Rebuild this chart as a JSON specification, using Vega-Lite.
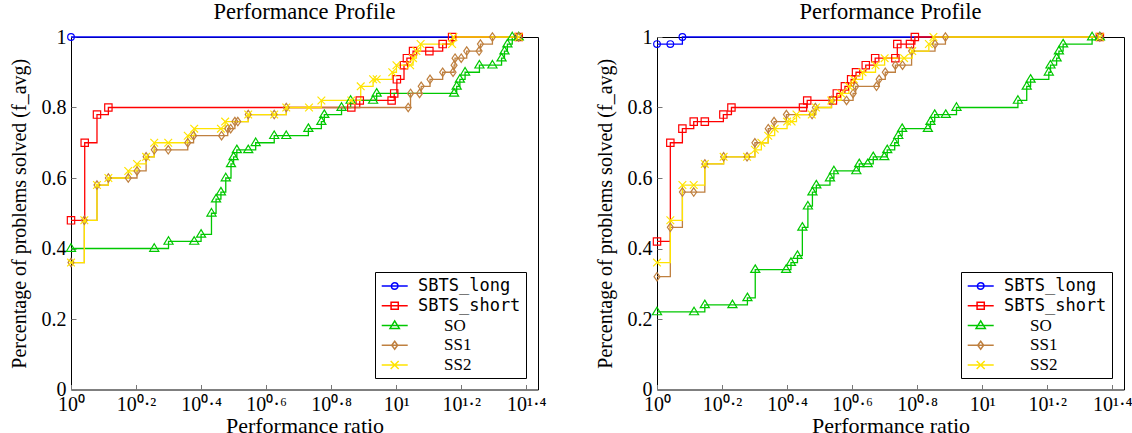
{
  "$schema": "https://vega.github.io/schema/vega-lite/v6.json",
  "background": "white",
  "padding": {"left": 8, "top": 0, "right": 2, "bottom": 0},
  "datasets": {
    "left": [
      {"series": "SBTS_long", "ratio": 1, "solved": 1},
      {"series": "SBTS_long", "ratio": 23.82, "solved": 1},
      {"series": "SBTS_short", "ratio": 1, "solved": 0.48},
      {"series": "SBTS_short", "ratio": 1.102, "solved": 0.70},
      {"series": "SBTS_short", "ratio": 1.202, "solved": 0.78},
      {"series": "SBTS_short", "ratio": 1.303, "solved": 0.80},
      {"series": "SBTS_short", "ratio": 7.278, "solved": 0.80},
      {"series": "SBTS_short", "ratio": 7.727, "solved": 0.82},
      {"series": "SBTS_short", "ratio": 9.683, "solved": 0.82},
      {"series": "SBTS_short", "ratio": 9.863, "solved": 0.84},
      {"series": "SBTS_short", "ratio": 10.05, "solved": 0.88},
      {"series": "SBTS_short", "ratio": 10.57, "solved": 0.92},
      {"series": "SBTS_short", "ratio": 10.79, "solved": 0.94},
      {"series": "SBTS_short", "ratio": 11.27, "solved": 0.96},
      {"series": "SBTS_short", "ratio": 12.65, "solved": 0.96},
      {"series": "SBTS_short", "ratio": 13.90, "solved": 0.98},
      {"series": "SBTS_short", "ratio": 14.86, "solved": 1.0},
      {"series": "SBTS_short", "ratio": 23.82, "solved": 1.0},
      {"series": "SO", "ratio": 1, "solved": 0.40},
      {"series": "SO", "ratio": 1.803, "solved": 0.40},
      {"series": "SO", "ratio": 1.995, "solved": 0.42},
      {"series": "SO", "ratio": 2.393, "solved": 0.42},
      {"series": "SO", "ratio": 2.512, "solved": 0.44},
      {"series": "SO", "ratio": 2.704, "solved": 0.50},
      {"series": "SO", "ratio": 2.793, "solved": 0.54},
      {"series": "SO", "ratio": 2.891, "solved": 0.56},
      {"series": "SO", "ratio": 2.992, "solved": 0.60},
      {"series": "SO", "ratio": 3.105, "solved": 0.64},
      {"series": "SO", "ratio": 3.162, "solved": 0.66},
      {"series": "SO", "ratio": 3.236, "solved": 0.68},
      {"series": "SO", "ratio": 3.508, "solved": 0.68},
      {"series": "SO", "ratio": 3.698, "solved": 0.70},
      {"series": "SO", "ratio": 4.217, "solved": 0.72},
      {"series": "SO", "ratio": 4.592, "solved": 0.72},
      {"series": "SO", "ratio": 5.370, "solved": 0.74},
      {"series": "SO", "ratio": 5.888, "solved": 0.76},
      {"series": "SO", "ratio": 6.012, "solved": 0.78},
      {"series": "SO", "ratio": 6.792, "solved": 0.80},
      {"series": "SO", "ratio": 7.244, "solved": 0.82},
      {"series": "SO", "ratio": 8.492, "solved": 0.82},
      {"series": "SO", "ratio": 8.710, "solved": 0.84},
      {"series": "SO", "ratio": 15.07, "solved": 0.84},
      {"series": "SO", "ratio": 15.35, "solved": 0.86},
      {"series": "SO", "ratio": 15.70, "solved": 0.88},
      {"series": "SO", "ratio": 16.29, "solved": 0.90},
      {"series": "SO", "ratio": 18.03, "solved": 0.92},
      {"series": "SO", "ratio": 19.77, "solved": 0.92},
      {"series": "SO", "ratio": 21.09, "solved": 0.94},
      {"series": "SO", "ratio": 21.53, "solved": 0.96},
      {"series": "SO", "ratio": 21.98, "solved": 0.98},
      {"series": "SO", "ratio": 22.75, "solved": 1.0},
      {"series": "SO", "ratio": 23.82, "solved": 1.0},
      {"series": "SS1", "ratio": 1, "solved": 0.36},
      {"series": "SS1", "ratio": 1.099, "solved": 0.48},
      {"series": "SS1", "ratio": 1.202, "solved": 0.58},
      {"series": "SS1", "ratio": 1.303, "solved": 0.60},
      {"series": "SS1", "ratio": 1.500, "solved": 0.60},
      {"series": "SS1", "ratio": 1.596, "solved": 0.62},
      {"series": "SS1", "ratio": 1.702, "solved": 0.66},
      {"series": "SS1", "ratio": 1.803, "solved": 0.68},
      {"series": "SS1", "ratio": 1.991, "solved": 0.68},
      {"series": "SS1", "ratio": 2.286, "solved": 0.70},
      {"series": "SS1", "ratio": 2.382, "solved": 0.72},
      {"series": "SS1", "ratio": 2.904, "solved": 0.72},
      {"series": "SS1", "ratio": 3.034, "solved": 0.74},
      {"series": "SS1", "ratio": 3.097, "solved": 0.74},
      {"series": "SS1", "ratio": 3.192, "solved": 0.76},
      {"series": "SS1", "ratio": 3.258, "solved": 0.76},
      {"series": "SS1", "ratio": 3.508, "solved": 0.78},
      {"series": "SS1", "ratio": 4.217, "solved": 0.78},
      {"series": "SS1", "ratio": 4.592, "solved": 0.80},
      {"series": "SS1", "ratio": 10.89, "solved": 0.80},
      {"series": "SS1", "ratio": 11.07, "solved": 0.84},
      {"series": "SS1", "ratio": 11.80, "solved": 0.84},
      {"series": "SS1", "ratio": 11.94, "solved": 0.86},
      {"series": "SS1", "ratio": 12.71, "solved": 0.88},
      {"series": "SS1", "ratio": 13.90, "solved": 0.90},
      {"series": "SS1", "ratio": 14.96, "solved": 0.90},
      {"series": "SS1", "ratio": 15.07, "solved": 0.92},
      {"series": "SS1", "ratio": 15.17, "solved": 0.94},
      {"series": "SS1", "ratio": 15.85, "solved": 0.94},
      {"series": "SS1", "ratio": 16.48, "solved": 0.96},
      {"series": "SS1", "ratio": 17.99, "solved": 0.96},
      {"series": "SS1", "ratio": 18.16, "solved": 0.98},
      {"series": "SS1", "ratio": 19.77, "solved": 1.0},
      {"series": "SS1", "ratio": 23.82, "solved": 1.0},
      {"series": "SS2", "ratio": 1, "solved": 0.36},
      {"series": "SS2", "ratio": 1.099, "solved": 0.48},
      {"series": "SS2", "ratio": 1.202, "solved": 0.58},
      {"series": "SS2", "ratio": 1.303, "solved": 0.60},
      {"series": "SS2", "ratio": 1.500, "solved": 0.62},
      {"series": "SS2", "ratio": 1.596, "solved": 0.64},
      {"series": "SS2", "ratio": 1.702, "solved": 0.66},
      {"series": "SS2", "ratio": 1.803, "solved": 0.70},
      {"series": "SS2", "ratio": 1.991, "solved": 0.70},
      {"series": "SS2", "ratio": 2.286, "solved": 0.72},
      {"series": "SS2", "ratio": 2.393, "solved": 0.74},
      {"series": "SS2", "ratio": 2.891, "solved": 0.74},
      {"series": "SS2", "ratio": 2.979, "solved": 0.76},
      {"series": "SS2", "ratio": 3.508, "solved": 0.78},
      {"series": "SS2", "ratio": 4.217, "solved": 0.78},
      {"series": "SS2", "ratio": 4.592, "solved": 0.80},
      {"series": "SS2", "ratio": 5.395, "solved": 0.80},
      {"series": "SS2", "ratio": 5.888, "solved": 0.82},
      {"series": "SS2", "ratio": 7.278, "solved": 0.82},
      {"series": "SS2", "ratio": 7.780, "solved": 0.86},
      {"series": "SS2", "ratio": 8.492, "solved": 0.88},
      {"series": "SS2", "ratio": 8.710, "solved": 0.88},
      {"series": "SS2", "ratio": 9.728, "solved": 0.90},
      {"series": "SS2", "ratio": 10.02, "solved": 0.92},
      {"series": "SS2", "ratio": 11.04, "solved": 0.92},
      {"series": "SS2", "ratio": 11.27, "solved": 0.94},
      {"series": "SS2", "ratio": 11.54, "solved": 0.96},
      {"series": "SS2", "ratio": 11.89, "solved": 0.98},
      {"series": "SS2", "ratio": 14.86, "solved": 0.98},
      {"series": "SS2", "ratio": 15.00, "solved": 1.0},
      {"series": "SS2", "ratio": 23.82, "solved": 1.0}
    ],
    "right": [
      {"series": "SBTS_long", "ratio": 1, "solved": 0.98},
      {"series": "SBTS_long", "ratio": 1.099, "solved": 0.98},
      {"series": "SBTS_long", "ratio": 1.197, "solved": 1.0},
      {"series": "SBTS_long", "ratio": 23.01, "solved": 1.0},
      {"series": "SBTS_short", "ratio": 1, "solved": 0.42},
      {"series": "SBTS_short", "ratio": 1.099, "solved": 0.70},
      {"series": "SBTS_short", "ratio": 1.197, "solved": 0.74},
      {"series": "SBTS_short", "ratio": 1.297, "solved": 0.76},
      {"series": "SBTS_short", "ratio": 1.403, "solved": 0.76},
      {"series": "SBTS_short", "ratio": 1.600, "solved": 0.78},
      {"series": "SBTS_short", "ratio": 1.694, "solved": 0.80},
      {"series": "SBTS_short", "ratio": 2.812, "solved": 0.80},
      {"series": "SBTS_short", "ratio": 2.897, "solved": 0.82},
      {"series": "SBTS_short", "ratio": 3.475, "solved": 0.82},
      {"series": "SBTS_short", "ratio": 3.573, "solved": 0.84},
      {"series": "SBTS_short", "ratio": 3.784, "solved": 0.86},
      {"series": "SBTS_short", "ratio": 3.954, "solved": 0.88},
      {"series": "SBTS_short", "ratio": 4.093, "solved": 0.90},
      {"series": "SBTS_short", "ratio": 4.385, "solved": 0.92},
      {"series": "SBTS_short", "ratio": 4.688, "solved": 0.94},
      {"series": "SBTS_short", "ratio": 5.408, "solved": 0.94},
      {"series": "SBTS_short", "ratio": 5.483, "solved": 0.98},
      {"series": "SBTS_short", "ratio": 5.998, "solved": 0.98},
      {"series": "SBTS_short", "ratio": 6.209, "solved": 1.0},
      {"series": "SBTS_short", "ratio": 23.01, "solved": 1.0},
      {"series": "SO", "ratio": 1, "solved": 0.22},
      {"series": "SO", "ratio": 1.300, "solved": 0.22},
      {"series": "SO", "ratio": 1.403, "solved": 0.24},
      {"series": "SO", "ratio": 1.706, "solved": 0.24},
      {"series": "SO", "ratio": 1.897, "solved": 0.26},
      {"series": "SO", "ratio": 2.005, "solved": 0.34},
      {"series": "SO", "ratio": 2.495, "solved": 0.34},
      {"series": "SO", "ratio": 2.582, "solved": 0.36},
      {"series": "SO", "ratio": 2.704, "solved": 0.38},
      {"series": "SO", "ratio": 2.799, "solved": 0.46},
      {"series": "SO", "ratio": 2.911, "solved": 0.52},
      {"series": "SO", "ratio": 3.006, "solved": 0.56},
      {"series": "SO", "ratio": 3.090, "solved": 0.58},
      {"series": "SO", "ratio": 3.404, "solved": 0.60},
      {"series": "SO", "ratio": 3.500, "solved": 0.62},
      {"series": "SO", "ratio": 4.102, "solved": 0.62},
      {"series": "SO", "ratio": 4.188, "solved": 0.64},
      {"series": "SO", "ratio": 4.446, "solved": 0.64},
      {"series": "SO", "ratio": 4.624, "solved": 0.66},
      {"series": "SO", "ratio": 5.000, "solved": 0.66},
      {"series": "SO", "ratio": 5.105, "solved": 0.68},
      {"series": "SO", "ratio": 5.383, "solved": 0.70},
      {"series": "SO", "ratio": 5.521, "solved": 0.72},
      {"series": "SO", "ratio": 5.675, "solved": 0.74},
      {"series": "SO", "ratio": 6.808, "solved": 0.74},
      {"series": "SO", "ratio": 6.934, "solved": 0.76},
      {"series": "SO", "ratio": 7.145, "solved": 0.78},
      {"series": "SO", "ratio": 7.727, "solved": 0.78},
      {"series": "SO", "ratio": 8.337, "solved": 0.80},
      {"series": "SO", "ratio": 12.88, "solved": 0.82},
      {"series": "SO", "ratio": 13.71, "solved": 0.86},
      {"series": "SO", "ratio": 14.09, "solved": 0.88},
      {"series": "SO", "ratio": 16.03, "solved": 0.90},
      {"series": "SO", "ratio": 16.22, "solved": 0.92},
      {"series": "SO", "ratio": 16.94, "solved": 0.94},
      {"series": "SO", "ratio": 17.22, "solved": 0.96},
      {"series": "SO", "ratio": 17.74, "solved": 0.98},
      {"series": "SO", "ratio": 21.78, "solved": 1.0},
      {"series": "SO", "ratio": 23.01, "solved": 1.0},
      {"series": "SS1", "ratio": 1, "solved": 0.32},
      {"series": "SS1", "ratio": 1.099, "solved": 0.46},
      {"series": "SS1", "ratio": 1.197, "solved": 0.56},
      {"series": "SS1", "ratio": 1.297, "solved": 0.56},
      {"series": "SS1", "ratio": 1.403, "solved": 0.64},
      {"series": "SS1", "ratio": 1.603, "solved": 0.66},
      {"series": "SS1", "ratio": 1.892, "solved": 0.66},
      {"series": "SS1", "ratio": 2.000, "solved": 0.70},
      {"series": "SS1", "ratio": 2.198, "solved": 0.74},
      {"series": "SS1", "ratio": 2.291, "solved": 0.76},
      {"series": "SS1", "ratio": 2.500, "solved": 0.78},
      {"series": "SS1", "ratio": 2.999, "solved": 0.78},
      {"series": "SS1", "ratio": 3.069, "solved": 0.80},
      {"series": "SS1", "ratio": 3.443, "solved": 0.82},
      {"series": "SS1", "ratio": 3.828, "solved": 0.82},
      {"series": "SS1", "ratio": 4.009, "solved": 0.84},
      {"series": "SS1", "ratio": 4.083, "solved": 0.86},
      {"series": "SS1", "ratio": 4.732, "solved": 0.86},
      {"series": "SS1", "ratio": 4.820, "solved": 0.88},
      {"series": "SS1", "ratio": 5.035, "solved": 0.90},
      {"series": "SS1", "ratio": 5.408, "solved": 0.92},
      {"series": "SS1", "ratio": 5.689, "solved": 0.92},
      {"series": "SS1", "ratio": 6.067, "solved": 0.96},
      {"series": "SS1", "ratio": 7.161, "solved": 0.98},
      {"series": "SS1", "ratio": 7.709, "solved": 1.0},
      {"series": "SS1", "ratio": 23.01, "solved": 1.0},
      {"series": "SS2", "ratio": 1, "solved": 0.36},
      {"series": "SS2", "ratio": 1.099, "solved": 0.48},
      {"series": "SS2", "ratio": 1.197, "solved": 0.58},
      {"series": "SS2", "ratio": 1.297, "solved": 0.58},
      {"series": "SS2", "ratio": 1.403, "solved": 0.64},
      {"series": "SS2", "ratio": 1.603, "solved": 0.66},
      {"series": "SS2", "ratio": 1.892, "solved": 0.66},
      {"series": "SS2", "ratio": 2.000, "solved": 0.68},
      {"series": "SS2", "ratio": 2.094, "solved": 0.70},
      {"series": "SS2", "ratio": 2.198, "solved": 0.72},
      {"series": "SS2", "ratio": 2.301, "solved": 0.74},
      {"series": "SS2", "ratio": 2.512, "solved": 0.76},
      {"series": "SS2", "ratio": 2.594, "solved": 0.76},
      {"series": "SS2", "ratio": 2.685, "solved": 0.78},
      {"series": "SS2", "ratio": 2.992, "solved": 0.78},
      {"series": "SS2", "ratio": 3.083, "solved": 0.80},
      {"series": "SS2", "ratio": 3.436, "solved": 0.82},
      {"series": "SS2", "ratio": 3.681, "solved": 0.84},
      {"series": "SS2", "ratio": 3.891, "solved": 0.86},
      {"series": "SS2", "ratio": 4.027, "solved": 0.88},
      {"series": "SS2", "ratio": 4.286, "solved": 0.90},
      {"series": "SS2", "ratio": 4.699, "solved": 0.92},
      {"series": "SS2", "ratio": 5.012, "solved": 0.94},
      {"series": "SS2", "ratio": 5.754, "solved": 0.94},
      {"series": "SS2", "ratio": 6.095, "solved": 0.96},
      {"series": "SS2", "ratio": 6.855, "solved": 0.98},
      {"series": "SS2", "ratio": 7.080, "solved": 1.0},
      {"series": "SS2", "ratio": 23.01, "solved": 1.0}
    ]
  },
  "spacing": 47,
  "resolve": {"scale": {"color": "independent"}, "legend": {"color": "independent"}},
  "hconcat": [
    {
      "width": 467,
      "height": 352.5,
      "title": "Performance Profile",
      "data": {"name": "left"},
      "layer": [
        {
          "mark": {"type": "line", "interpolate": "step-after", "strokeWidth": 1.3},
          "encoding": {
            "x": {"field": "ratio", "type": "quantitative", "scale": {"type": "log", "domain": [1, 27.3], "nice": false},
              "axis": {"values": [1, 1.5848932, 2.5118864, 3.9810717, 6.3095734, 10, 15.848932, 25.118864], "tickSize": -5, "labelPadding": 10, "labelExpr": "['10⁰','10⁰·²','10⁰·⁴','10⁰·⁶','10⁰·⁸','10¹','10¹·²','10¹·⁴'][round(log(datum.value)/LN10*5)]", "title": "Performance ratio", "titleFontSize": 22, "titlePadding": 1}},
            "y": {"field": "solved", "type": "quantitative", "scale": {"domain": [0, 1], "nice": false},
              "axis": {"values": [0, 0.2, 0.4, 0.6, 0.8, 1], "tickSize": -5, "labelPadding": 10, "format": "~g", "title": "Percentage of problems solved (f_avg)", "titleFontSize": 20, "titlePadding": 12}},
            "color": {"field": "series", "type": "nominal",
              "scale": {"domain": ["SBTS_long", "SBTS_short", "SO", "SS1", "SS2"], "range": ["#0000ff", "#ff0000", "#00c800", "#bf8040", "#ffe400"]},
              "legend": {"title": null, "orient": "bottom-right", "offset": 12, "symbolSize": 256, "padding": 5, "strokeColor": "black", "fillColor": "white", "labelOffset": 20, "rowPadding": 2.75, "labelFontSize": 17, "labelColor": "black",
                "encode": {
                  "symbols": {"update": {"shape": {"signal": "datum.value==='SBTS_long'?'M-0.91,0H2.34M1.12,0A0.41,0.41 0 1,1 0.30,0A0.41,0.41 0 1,1 1.12,0':datum.value==='SBTS_short'?'M-0.91,0H2.34M0.26,-0.45H1.16V0.45H0.26Z':datum.value==='SO'?'M-0.91,0H2.34M0.71,-0.58L1.29,0.36H0.13Z':datum.value==='SS1'?'M-0.91,0H2.34M0.71,-0.5L1.08,0L0.71,0.5L0.34,0Z':'M-0.91,0H2.34M0.21,-0.5L1.21,0.5M0.21,0.5L1.21,-0.5'"}}},
                  "labels": {"update": {"font": {"signal": "indexof(datum.value,'SBTS')===0?'DejaVu Sans Mono':'Liberation Serif'"}, "dx": {"signal": "indexof(datum.value,'SBTS')===0?0:26"}}}
                }}}
          }
        },
        {
          "mark": {"type": "point", "filled": false, "size": 49, "strokeWidth": 1.2, "opacity": 1},
          "encoding": {
            "x": {"field": "ratio", "type": "quantitative"},
            "y": {"field": "solved", "type": "quantitative"},
            "color": {"field": "series", "type": "nominal"},
            "shape": {"field": "series", "type": "nominal", "legend": null,
              "scale": {"domain": ["SBTS_long", "SBTS_short", "SO", "SS1", "SS2"], "range": ["M0.95,0A0.95,0.95 0 1,1 -0.95,0A0.95,0.95 0 1,1 0.95,0Z", "M-1.05,-1.05H1.05V1.05H-1.05Z", "M0,-1.35L1.3,0.8H-1.3Z", "M0,-1.2L0.85,0L0,1.2L-0.85,0Z", "M-1.1,-1.1L1.1,1.1M-1.1,1.1L1.1,-1.1"]}}
          }
        }
      ]
    },
    {
      "width": 467,
      "height": 352.5,
      "title": "Performance Profile",
      "data": {"name": "right"},
      "layer": [
        {
          "mark": {"type": "line", "interpolate": "step-after", "strokeWidth": 1.3},
          "encoding": {
            "x": {"field": "ratio", "type": "quantitative", "scale": {"type": "log", "domain": [1, 27.3], "nice": false},
              "axis": {"values": [1, 1.5848932, 2.5118864, 3.9810717, 6.3095734, 10, 15.848932, 25.118864], "tickSize": -5, "labelPadding": 10, "labelExpr": "['10⁰','10⁰·²','10⁰·⁴','10⁰·⁶','10⁰·⁸','10¹','10¹·²','10¹·⁴'][round(log(datum.value)/LN10*5)]", "title": "Performance ratio", "titleFontSize": 22, "titlePadding": 1}},
            "y": {"field": "solved", "type": "quantitative", "scale": {"domain": [0, 1], "nice": false},
              "axis": {"values": [0, 0.2, 0.4, 0.6, 0.8, 1], "tickSize": -5, "labelPadding": 10, "format": "~g", "title": "Percentage of problems solved (f_avg)", "titleFontSize": 20, "titlePadding": 12}},
            "color": {"field": "series", "type": "nominal",
              "scale": {"domain": ["SBTS_long", "SBTS_short", "SO", "SS1", "SS2"], "range": ["#0000ff", "#ff0000", "#00c800", "#bf8040", "#ffe400"]},
              "legend": {"title": null, "orient": "bottom-right", "offset": 12, "symbolSize": 256, "padding": 5, "strokeColor": "black", "fillColor": "white", "labelOffset": 20, "rowPadding": 2.75, "labelFontSize": 17, "labelColor": "black",
                "encode": {
                  "symbols": {"update": {"shape": {"signal": "datum.value==='SBTS_long'?'M-0.91,0H2.34M1.12,0A0.41,0.41 0 1,1 0.30,0A0.41,0.41 0 1,1 1.12,0':datum.value==='SBTS_short'?'M-0.91,0H2.34M0.26,-0.45H1.16V0.45H0.26Z':datum.value==='SO'?'M-0.91,0H2.34M0.71,-0.58L1.29,0.36H0.13Z':datum.value==='SS1'?'M-0.91,0H2.34M0.71,-0.5L1.08,0L0.71,0.5L0.34,0Z':'M-0.91,0H2.34M0.21,-0.5L1.21,0.5M0.21,0.5L1.21,-0.5'"}}},
                  "labels": {"update": {"font": {"signal": "indexof(datum.value,'SBTS')===0?'DejaVu Sans Mono':'Liberation Serif'"}, "dx": {"signal": "indexof(datum.value,'SBTS')===0?0:26"}}}
                }}}
          }
        },
        {
          "mark": {"type": "point", "filled": false, "size": 49, "strokeWidth": 1.2, "opacity": 1},
          "encoding": {
            "x": {"field": "ratio", "type": "quantitative"},
            "y": {"field": "solved", "type": "quantitative"},
            "color": {"field": "series", "type": "nominal"},
            "shape": {"field": "series", "type": "nominal", "legend": null,
              "scale": {"domain": ["SBTS_long", "SBTS_short", "SO", "SS1", "SS2"], "range": ["M0.95,0A0.95,0.95 0 1,1 -0.95,0A0.95,0.95 0 1,1 0.95,0Z", "M-1.05,-1.05H1.05V1.05H-1.05Z", "M0,-1.35L1.3,0.8H-1.3Z", "M0,-1.2L0.85,0L0,1.2L-0.85,0Z", "M-1.1,-1.1L1.1,1.1M-1.1,1.1L1.1,-1.1"]}}
          }
        }
      ]
    }
  ],
  "config": {
    "font": "Liberation Serif",
    "view": {"stroke": "black", "strokeWidth": 1},
    "title": {"fontSize": 22.5, "fontWeight": "normal", "font": "Liberation Serif", "color": "black", "offset": 0},
    "axis": {"domain": false, "grid": false, "tickColor": "#777", "labelFont": "Liberation Serif", "labelFontSize": 20, "labelColor": "black", "labelOverlap": false, "labelFlush": false, "titleFont": "Liberation Serif", "titleFontWeight": "normal", "titleColor": "black"}
  }
}
